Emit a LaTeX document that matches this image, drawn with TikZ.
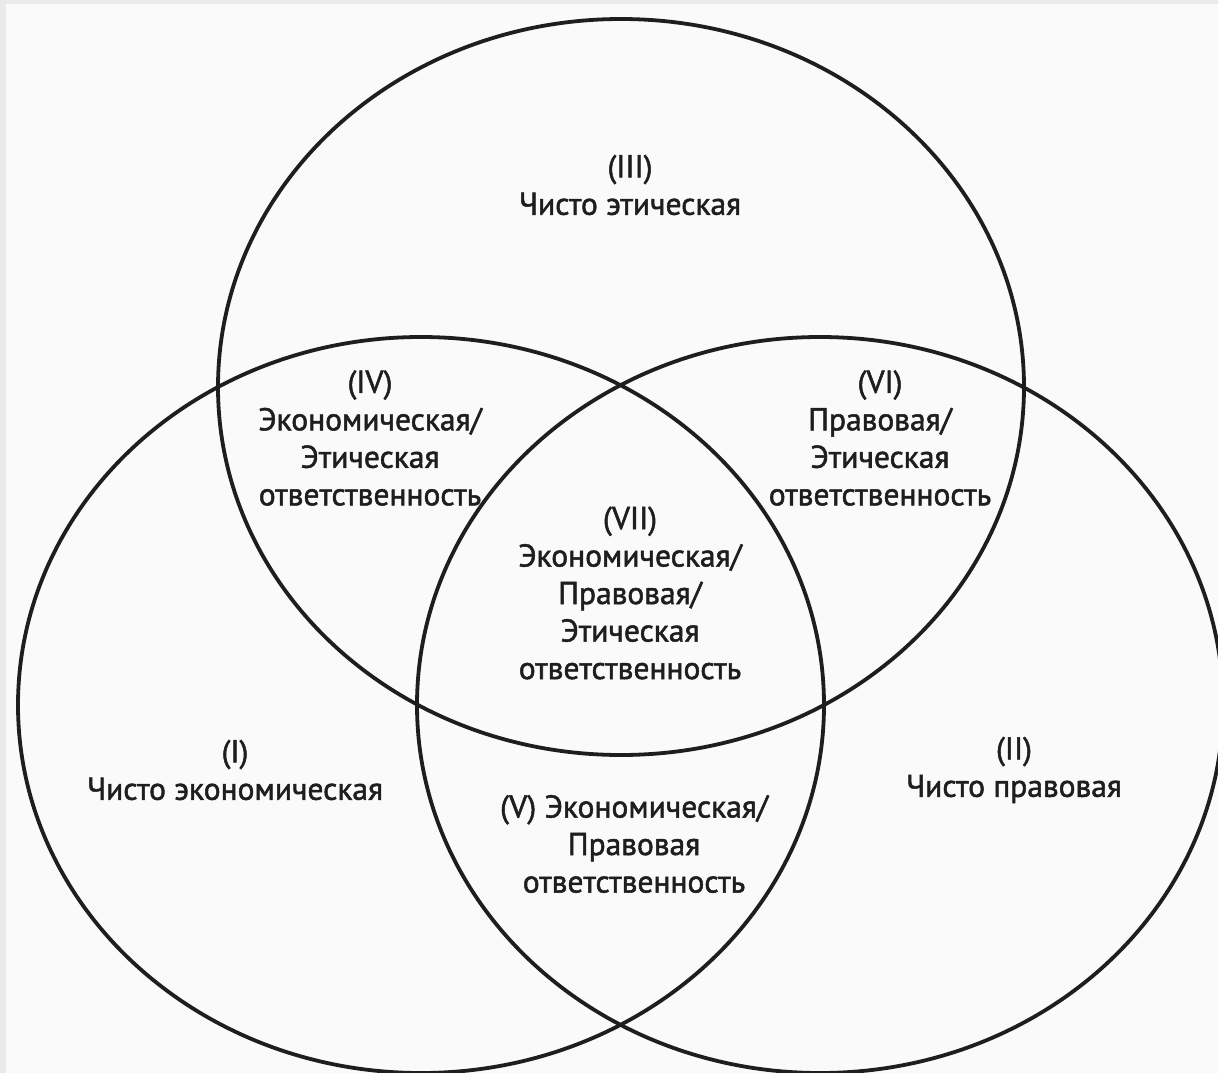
\documentclass[tikz,border=0pt]{standalone}
\usepackage{fontspec}
\setmainfont{PT Sans}[FakeBold=1.6]
\usetikzlibrary{shapes.geometric}
\definecolor{bg}{HTML}{FAFAFA}
\definecolor{edge}{HTML}{EAEAEA}
\definecolor{ink}{HTML}{1E1E1E}
\tikzset{
  set/.style={ellipse, draw=ink, line width=3.8pt, inner sep=0pt,
    minimum width=806pt, minimum height=736pt},
  lbl/.style={align=center, text=ink, inner sep=0pt,
    font=\fontsize{31.5}{37.5}\selectfont}
}
\begin{document}
\begin{tikzpicture}[x=1pt,y=-1pt]
\useasboundingbox (0,0) rectangle (1218,1073);
\fill[bg] (0,0) rectangle (1218,1073);
\fill[edge] (0,0) rectangle (1218,4);
\fill[edge] (0,0) rectangle (6,1073);
\node[set] (ethic) at (621,387) {};
\node[set] (econ) at (421,705) {};
\node[set] (legal) at (820,705) {};
\node[lbl] (t3) at (630,185) {(III)\\Чисто этическая};
\node[lbl] (t4) at (370,438) {(IV)\\Экономическая/\\Этическая\\ответственность};
\node[lbl] (t6) at (880,438) {(VI)\\Правовая/\\Этическая\\ответственность};
\node[lbl] (t7) at (630,593) {(VII)\\Экономическая/\\Правовая/\\Этическая\\ответственность};
\node[lbl] (t1) at (235,770) {(I)\\Чисто экономическая};
\node[lbl] (t2) at (1014,770) {(II)\\Чисто правовая};
\node[lbl] (t5) at (634,844) {(V) Экономическая/\\Правовая\\ответственность};
\end{tikzpicture}
\end{document}
